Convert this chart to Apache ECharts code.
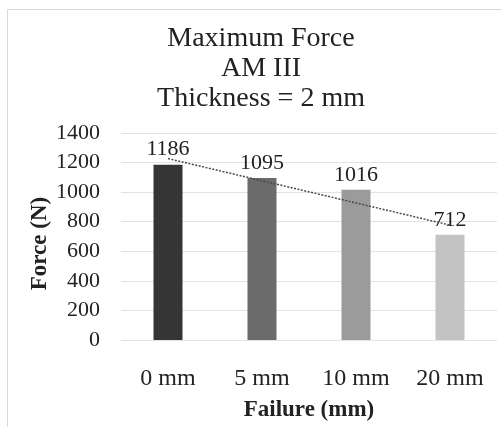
<!DOCTYPE html>
<html>
<head>
<meta charset="utf-8">
<title>Maximum Force — AM III</title>
<script src="https://cdn.jsdelivr.net/npm/echarts@6/dist/echarts.min.js"></script>
<style>
  html, body { margin: 0; padding: 0; background: #ffffff; }
  #chart { width: 501px; height: 427px; }
</style>
</head>
<body>
<div id="chart"></div>
<script>
// Failure sizes tested and the maximum force measured for each
const categories = ['0 mm', '5 mm', '10 mm', '20 mm'];
const forceValues = [1186, 1095, 1016, 712];
// Linear trend line end values (at 0 mm and at 20 mm)
const trendEnds = [1227, 777];
// Y-axis ticks
const yTicks = [0, 200, 400, 600, 800, 1000, 1200, 1400];

// Bar fill, dark to light
const barColors = ['#353535', '#6b6b6b', '#9b9b9b', '#c3c3c3'];

const serif = '"Liberation Serif", "Times New Roman", serif';
const textColor = '#222222';

const chart = echarts.init(document.getElementById('chart'), null, { renderer: 'canvas' });

chart.setOption({
  backgroundColor: '#ffffff',
  animation: false,
  title: {
    text: 'Maximum Force\nAM III\nThickness = 2 mm',
    left: 256,
    top: 19,
    textAlign: 'center',
    textStyle: {
      fontFamily: serif,
      fontSize: 28,
      fontWeight: 'normal',
      lineHeight: 30,
      color: textColor
    }
  },
  graphic: [{
    type: 'rect',
    shape: { x: 7.5, y: 9.5, width: 520, height: 440 },
    style: { fill: 'none', stroke: '#d9d9d9', lineWidth: 1 },
    silent: true,
    z: -1
  }],
  grid: { left: 121, right: 4, top: 133, bottom: 78 },
  xAxis: {
    type: 'category',
    data: categories,
    name: 'Failure (mm)',
    nameLocation: 'middle',
    nameGap: 59,
    nameMoveOverlap: false,
    nameTextStyle: { fontFamily: serif, fontSize: 23, fontWeight: 'bold', color: textColor },
    axisLine: { show: false },
    axisTick: { show: false },
    axisLabel: { fontFamily: serif, fontSize: 24, color: textColor, margin: 27 }
  },
  yAxis: {
    type: 'value',
    min: yTicks[0],
    max: yTicks[yTicks.length - 1],
    interval: yTicks[1] - yTicks[0],
    name: 'Force (N)',
    nameLocation: 'middle',
    nameGap: 69,
    nameMoveOverlap: false,
    nameTextStyle: {
      fontFamily: serif,
      fontSize: 23,
      fontWeight: 'bold',
      color: textColor,
      padding: [0, 14, 0, 0]
    },
    axisLine: { show: false },
    axisTick: { show: false },
    axisLabel: {
      fontFamily: serif,
      fontSize: 22,
      color: textColor,
      margin: 21,
      formatter: (v) => String(v)
    },
    splitLine: { lineStyle: { color: '#e2e2e2', width: 1 } }
  },
  series: [
    {
      type: 'bar',
      data: forceValues.map((v, i) => ({ value: v, itemStyle: { color: barColors[i] } })),
      barWidth: 29,
      label: {
        show: true,
        position: 'top',
        distance: 4,
        fontFamily: serif,
        fontSize: 22,
        color: textColor
      },
      z: 2
    },
    {
      type: 'line',
      data: [trendEnds[0], '-', '-', trendEnds[1]],
      connectNulls: true,
      symbol: 'none',
      lineStyle: { color: '#4a4a4a', width: 1.5, type: [2, 1.5] },
      z: 3
    }
  ]
});
</script>
</body>
</html>
